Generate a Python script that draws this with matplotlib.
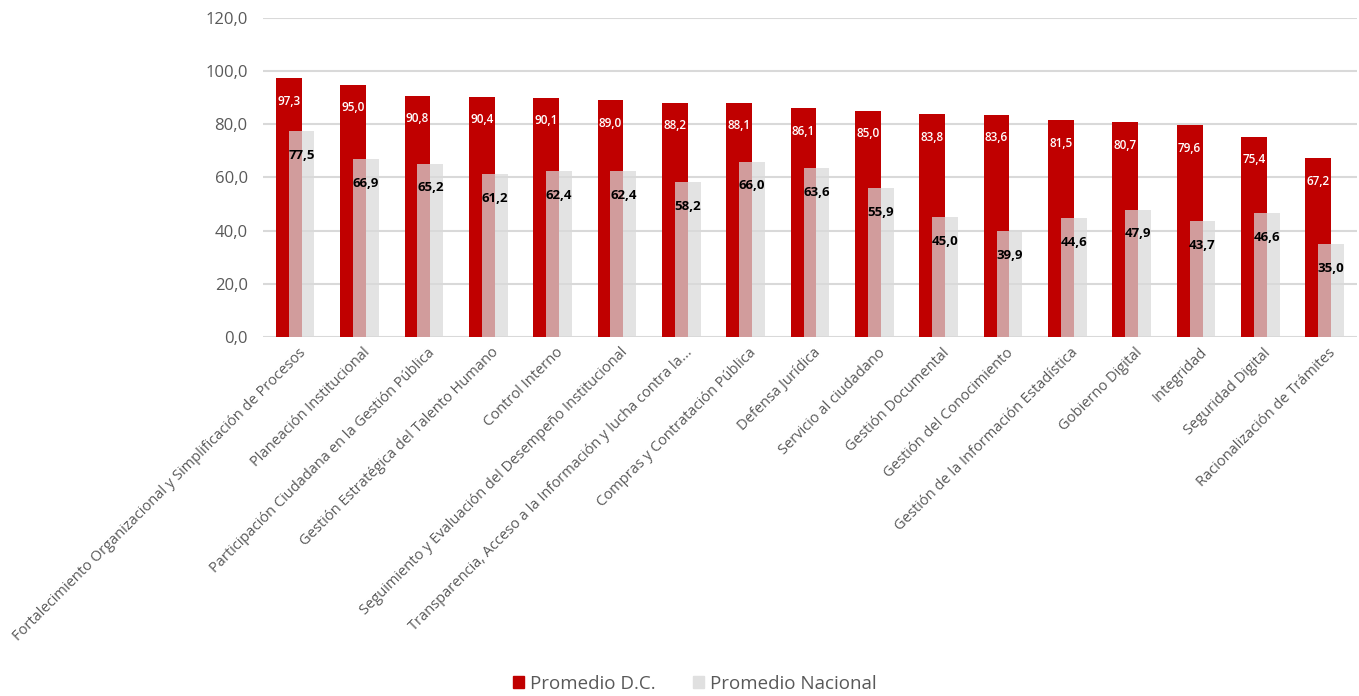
import matplotlib
matplotlib.use("Agg")
import numpy as np
from matplotlib import pyplot as plt
from matplotlib.patches import Patch

categorias = [
    "Fortalecimiento Organizacional y Simplificación de Procesos",
    "Planeación Institucional",
    "Participación Ciudadana en la Gestión Pública",
    "Gestión Estratégica del Talento Humano",
    "Control Interno",
    "Seguimiento y Evaluación del Desempeño Institucional",
    "Transparencia, Acceso a la Información y lucha contra la...",
    "Compras y Contratación Pública",
    "Defensa Jurídica",
    "Servicio al ciudadano",
    "Gestión Documental",
    "Gestión del Conocimiento",
    "Gestión de la Información Estadística",
    "Gobierno Digital",
    "Integridad",
    "Seguridad Digital",
    "Racionalización de Trámites",
]
promedio_dc = [97.3, 95.0, 90.8, 90.4, 90.1, 89.0, 88.2, 88.1, 86.1,
               85.0, 83.8, 83.6, 81.5, 80.7, 79.6, 75.4, 67.2]
promedio_nacional = [77.5, 66.9, 65.2, 61.2, 62.4, 62.4, 58.2, 66.0, 63.6,
                     55.9, 45.0, 39.9, 44.6, 47.9, 43.7, 46.6, 35.0]
yticks = [0, 20, 40, 60, 80, 100, 120]

RED = "#C00000"
GRAY = "#D9D9D9"
TXT = "#595959"

plt.rcParams['font.family'] = ['Open Sans', 'DejaVu Sans']


def fmt(v):
    return f"{v:.1f}".replace(".", ",")


def main():
    fig = plt.figure(figsize=(13.59, 6.96), dpi=100)
    ax = fig.add_axes([0.1935, 0.516, 0.805, 0.458])

    x = np.arange(len(categorias))
    w = 0.4
    b1 = ax.bar(x - 0.1, promedio_dc, w, color=RED, zorder=2)
    b2 = ax.bar(x + 0.1, promedio_nacional, w, color=GRAY, alpha=0.72,
                zorder=3)

    for rect, v in zip(b1, promedio_dc):
        ax.annotate(fmt(v), xy=(rect.get_x() + rect.get_width() / 2, v),
                    xytext=(0, -16.5), textcoords="offset points",
                    ha="center", va="center", color="white", fontsize=8.5,
                    fontweight="semibold", zorder=4)
    for rect, v in zip(b2, promedio_nacional):
        ax.annotate(fmt(v), xy=(rect.get_x() + rect.get_width() / 2, v),
                    xytext=(0, -17.5), textcoords="offset points",
                    ha="center", va="center", color="black", fontsize=9.5,
                    fontweight="bold", zorder=4)

    ax.set_xlim(-0.5, len(categorias) - 0.5)
    ax.set_ylim(0, 120)
    ax.set_yticks(yticks)
    ax.set_yticklabels([fmt(t) for t in yticks], color=TXT, fontsize=12)
    ax.yaxis.grid(True, color="#D9D9D9", linewidth=1.5, zorder=0)
    ax.set_axisbelow(True)
    for s in ax.spines.values():
        s.set_visible(False)
    ax.tick_params(axis="both", length=0)
    ax.tick_params(axis="y", pad=11)
    ax.tick_params(axis="x", pad=6)

    ax.set_xticks(x + 0.05)
    ax.set_xticklabels(categorias, rotation=45, ha="right",
                       rotation_mode="anchor", color=TXT, fontsize=10.5)

    handles = [Patch(color=RED, label="Promedio D.C."),
               Patch(color="#E0E0E0", label="Promedio Nacional")]
    fig.legend(handles=handles, loc="lower center",
               bbox_to_anchor=(0.511, -0.02), ncol=2, frameon=False,
               fontsize=13.5, labelcolor=TXT, handlelength=0.6,
               handleheight=0.6, handletextpad=0.3, columnspacing=2.0)

    fig.savefig("out.png", dpi=100)


if __name__ == "__main__":
    main()
